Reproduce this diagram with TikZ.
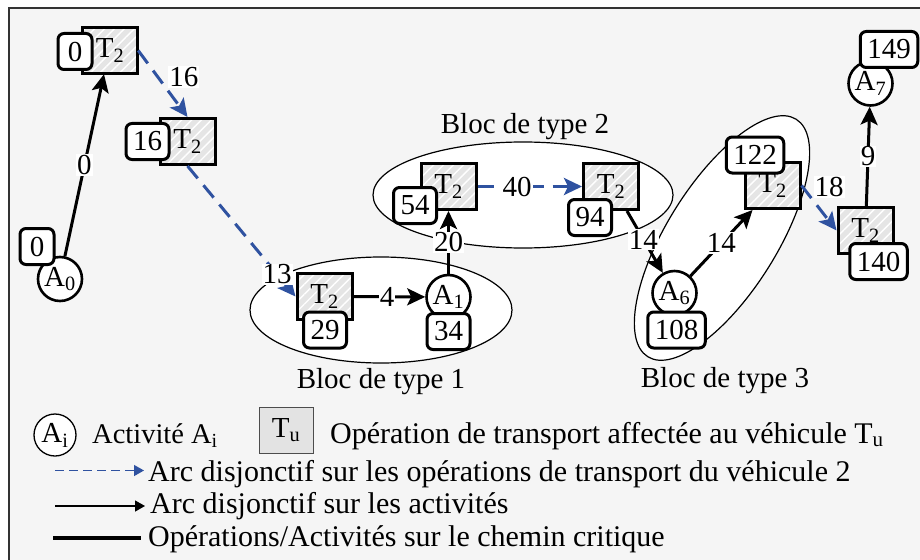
\documentclass[tikz,border=0pt]{standalone}
\usepackage{fontspec}
\setmainfont{Liberation Serif}
\usetikzlibrary{arrows.meta,patterns.meta}
\definecolor{bgc}{HTML}{F5F5F5}
\definecolor{vblue}{HTML}{2F52A0}
\begin{document}
\begin{tikzpicture}[x=1pt,y=-1pt,font=\fontsize{29}{31}\selectfont,
 tbox/.style={draw,line width=3pt,minimum width=55pt,minimum height=46pt,inner sep=0pt,preaction={fill=gray!20},pattern={Lines[angle=45,distance=7pt,line width=1.4pt]},pattern color=white},
 vbox/.style={draw,fill=white,line width=3pt,rounded corners=6pt,minimum width=34pt,minimum height=36pt,inner xsep=7pt,inner ysep=0pt},
 act/.style={circle,draw,fill=white,line width=2.6pt,minimum size=44pt,inner sep=0pt},
 lbl/.style={fill=white,text=black,inner sep=1pt},
 crit/.style={line width=3pt,-{Stealth[length=18pt,width=17pt,inset=4pt]}},
 disj/.style={vblue,line width=3pt,dash pattern=on 16pt off 9pt,-{Stealth[length=18pt,width=17pt,inset=4pt]}},
 legtxt/.style={anchor=base west,inner sep=0pt,font=\fontsize{30}{32}\selectfont}]
\useasboundingbox (0,0) rectangle (920,559);
\fill[bgc] (9,8) rectangle (930,570);
\draw[line width=1.5pt,black!80] (9,570)--(9,8)--(930,8);
% blocs
\fill[white] (381,310) ellipse [x radius=131,y radius=53] (523,195) ellipse [x radius=150,y radius=53];
\fill[white,rotate around={58:(722,238)}] (722,238) ellipse [x radius=140,y radius=55];
\draw[line width=1.2pt] (381,310) ellipse [x radius=131,y radius=53] (523,195) ellipse [x radius=150,y radius=53];
\draw[line width=1.2pt,rotate around={58:(722,238)}] (722,238) ellipse [x radius=140,y radius=55];
\node[anchor=base] (bl1) at (381,388) {Bloc de type 1};
\node[anchor=base] (bl2) at (525,133) {Bloc de type 2};
\node[anchor=base] (bl3) at (725,387) {Bloc de type 3};
% operations et activites
\foreach \n/\x/\y in {ta/110/50.5,tb/187.5/141.5,tc/324.5/296.5,td/448.5/186.5,te/611/186.5,tf/772.5/185.5,tg/865.5/230.5}{
 \node[tbox] (\n) at (\x,\y) {T\textsubscript{2}};
}
\foreach \n/\x/\y/\i in {a0/60/279/0,a1/448.5/297/1,a6/674.5/293/6,a7/870.5/83.5/7}{
 \node[act] (\n) at (\x,\y) {A\textsubscript{\i}};
}
% arcs
\draw[crit] (a0) -- ([xshift=-6pt]ta.south) node[lbl,pos=.5] {0};
\draw[disj] (ta.east) -- (tb.north) node[lbl,pos=.4,right=9pt] {16};
\draw[disj] (tb.south) -- (tc.west) node[lbl,pos=.83] {13};
\draw[crit] (tc) -- (a1) node[lbl,pos=.47] {4};
\draw[crit] (a1) -- (td) node[lbl,pos=.5] {20};
\draw[disj] (td) -- (te) node[lbl,pos=.38] {40};
\draw[crit] ([xshift=16pt]te.south) -- (a6) node[lbl,pos=.46] {14};
\draw[crit] (a6) -- ([xshift=-20pt]tf.south) node[lbl,pos=.5] {14};
\draw[disj] (tf.east) -- (tg.west) node[lbl,pos=.3,above right] {18};
\draw[crit] (tg) -- (a7) node[lbl,pos=.5] {9};
% dates
\foreach \n/\x/\y/\v in {va/75/51.5/0,vb/147.5/141.5/16,vc/325/330/29,vd/415/205.5/54,ve/590/217.5/94,vf/755/155/122,vg/878.5/261.5/140,v0/37/246.5/0,v1/448.5/331.5/34,v6/676.5/330/108,v7/889/49.5/149}{
 \node[vbox] (\n) at (\x,\y) {\v};
}
% legende
\node[act,line width=1.3pt,minimum size=42pt] (la) at (55,435) {A\textsubscript{i}};
\node[legtxt,font=\fontsize{28.5}{30}\selectfont] (lat) at (92,443) {Activité A\textsubscript{i}};
\node[draw=black!70,fill=gray!22,line width=1pt,minimum width=54pt,minimum height=46pt,inner sep=0pt] (lt) at (286,430) {T\textsubscript{u}};
\node[legtxt] (ltt) at (330,443) {Opération de transport affectée au véhicule T\textsubscript{u}};
\coordinate (s2) at (55,470.5); \coordinate (s3) at (55,506); \coordinate (s4) at (53,538);
\node[legtxt] (l2) at (148,481.7) {Arc disjonctif sur les opérations de transport du véhicule 2};
\node[legtxt] (l3) at (150,513) {Arc disjonctif sur les activités};
\node[legtxt] (l4) at (148,546.7) {Opérations/Activités sur le chemin critique};
\draw[vblue,line width=1.3pt,dash pattern=on 9pt off 5pt,-{Triangle[length=10pt,width=11pt]}] (s2) -- ([xshift=-4pt]s2 -| l2.west);
\draw[line width=1.3pt,-{Triangle[length=10pt,width=11pt]}] (s3) -- ([xshift=-5pt]s3 -| l3.west);
\draw[line width=4pt] (s4) -- ([xshift=-7pt]s4 -| l4.west);
\end{tikzpicture}
\end{document}
